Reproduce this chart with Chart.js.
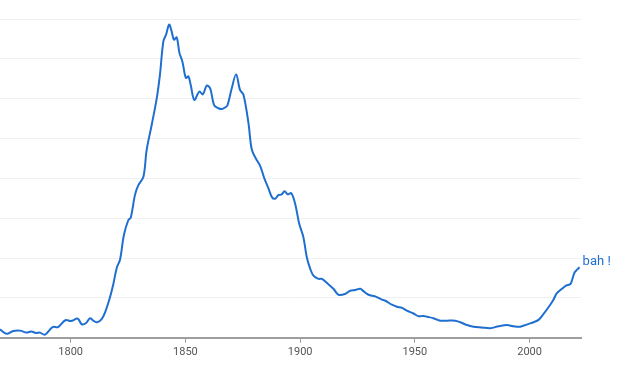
<!DOCTYPE html>
<html>
<head>
<meta charset="utf-8">
<script src="https://cdn.jsdelivr.net/npm/chart.js@4"></script>
<style>
  html, body { margin: 0; padding: 0; background: #fff; }
  #wrap { width: 628px; height: 366px; }
</style>
</head>
<body>
<div id="wrap"><canvas id="ngram-chart"></canvas></div>
<script>
const years = [
  1769.2, 1772.1, 1775.0, 1777.9, 1780.8, 1782.8, 1784.9, 1786.6, 1788.8, 1792.1,
  1794.5, 1797.7, 1800.1, 1803.1, 1804.8, 1806.7, 1808.4, 1809.9, 1811.5, 1813.5,
  1815.0, 1817.1, 1818.6, 1820.1, 1821.5, 1823.2, 1825.1, 1826.2, 1828.0, 1829.5,
  1831.7, 1833.1, 1835.3, 1837.5, 1838.9, 1840.4, 1841.6, 1842.9, 1844.0, 1845.0,
  1846.2, 1847.4, 1848.7, 1850.2, 1851.3, 1852.3, 1853.9, 1856.1, 1857.6, 1859.3,
  1860.8, 1862.5, 1864.4, 1865.9, 1867.3, 1868.3, 1870.2, 1872.1, 1873.8, 1875.3,
  1877.5, 1878.9, 1880.7, 1882.6, 1884.4, 1886.2, 1887.7, 1889.1, 1890.5, 1892.0,
  1893.2, 1894.6, 1896.1, 1897.8, 1899.6, 1901.4, 1902.9, 1904.4, 1905.8, 1908.0,
  1909.5, 1911.6, 1914.5, 1916.7, 1919.6, 1921.8, 1924.0, 1926.2, 1927.6, 1929.8,
  1932.7, 1935.6, 1937.1, 1940.0, 1942.2, 1944.4, 1946.5, 1949.4, 1951.6, 1953.8,
  1955.3, 1958.1, 1961.1, 1964.0, 1967.6, 1969.8, 1972.7, 1975.6, 1979.2, 1982.9,
  1986.5, 1990.1, 1993.0, 1995.9, 1999.6, 2001.7, 2003.9, 2006.1, 2009.0, 2010.5,
  2011.9, 2014.1, 2015.9, 2017.8, 2018.5, 2019.6, 2020.7, 2021.8
];
const bahValues = [
  0.21, 0.10, 0.17, 0.18, 0.13, 0.16, 0.12, 0.13, 0.08, 0.27,
  0.27, 0.44, 0.42, 0.48, 0.34, 0.37, 0.49, 0.43, 0.39, 0.47,
  0.64, 1.01, 1.35, 1.76, 1.96, 2.58, 2.95, 3.02, 3.58, 3.83,
  4.04, 4.71, 5.34, 6.01, 6.60, 7.44, 7.61, 7.86, 7.69, 7.48,
  7.54, 7.15, 6.93, 6.52, 6.56, 6.35, 5.97, 6.18, 6.11, 6.33,
  6.26, 5.84, 5.76, 5.74, 5.78, 5.83, 6.26, 6.61, 6.22, 6.10,
  5.38, 4.73, 4.50, 4.31, 4.00, 3.75, 3.53, 3.49, 3.58, 3.60,
  3.68, 3.60, 3.63, 3.37, 2.86, 2.53, 2.02, 1.73, 1.56, 1.48,
  1.48, 1.38, 1.23, 1.08, 1.10, 1.18, 1.20, 1.23, 1.17, 1.08,
  1.04, 0.96, 0.93, 0.83, 0.78, 0.75, 0.68, 0.61, 0.54, 0.55,
  0.53, 0.49, 0.43, 0.43, 0.43, 0.39, 0.32, 0.28, 0.26, 0.24,
  0.29, 0.32, 0.29, 0.28, 0.35, 0.39, 0.45, 0.60, 0.83, 0.97,
  1.12, 1.23, 1.31, 1.35, 1.45, 1.64, 1.71, 1.77
];
const tickYears = [1800, 1850, 1900, 1950, 2000];
const seriesLabel = "bah !";
const lineColor = "#1f6fd0";

// label at the end of the line
const endLabel = {
  id: "endLabel",
  afterDatasetsDraw(chart) {
    const x = chart.scales.x;
    const y = chart.scales.y;
    const last = years.length - 1;
    const ctx = chart.ctx;
    ctx.save();
    ctx.font = "13px Roboto";
    ctx.fillStyle = lineColor;
    ctx.textAlign = "left";
    ctx.textBaseline = "middle";
    ctx.fillText(
      seriesLabel,
      x.getPixelForValue(years[last]) + 3,
      y.getPixelForValue(bahValues[last]) - 6
    );
    ctx.restore();
  },
};

new Chart(document.getElementById("ngram-chart"), {
  type: "line",
  data: {
    datasets: [
      {
        label: seriesLabel,
        data: years.map((yr, i) => ({ x: yr, y: bahValues[i] })),
        borderColor: lineColor,
        borderWidth: 2,
        pointRadius: 0,
        tension: 0.35,
        fill: false,
      },
    ],
  },
  options: {
    responsive: true,
    maintainAspectRatio: false,
    animation: false,
    layout: { padding: { top: 19, right: 47, bottom: 4, left: 0 } },
    plugins: { legend: { display: false }, tooltip: { enabled: false } },
    scales: {
      x: {
        type: "linear",
        min: 1769.2,
        max: 2022.4,
        afterBuildTicks: (axis) => {
          axis.ticks = tickYears.map((v) => ({ value: v }));
        },
        grid: {
          drawOnChartArea: false,
          drawTicks: true,
          tickLength: 5,
          color: "#9e9e9e",
        },
        border: { display: true, color: "#9e9e9e", width: 2 },
        ticks: {
          color: "#555",
          font: { family: "Roboto", size: 11 },
          padding: 3,
          maxRotation: 0,
          callback: (v) => String(v),
        },
      },
      y: {
        min: 0,
        max: 8,
        ticks: { display: false, stepSize: 1 },
        grid: { color: "#f0f0f0", drawTicks: false },
        border: { display: false },
      },
    },
  },
  plugins: [endLabel],
});
</script>
</body>
</html>
